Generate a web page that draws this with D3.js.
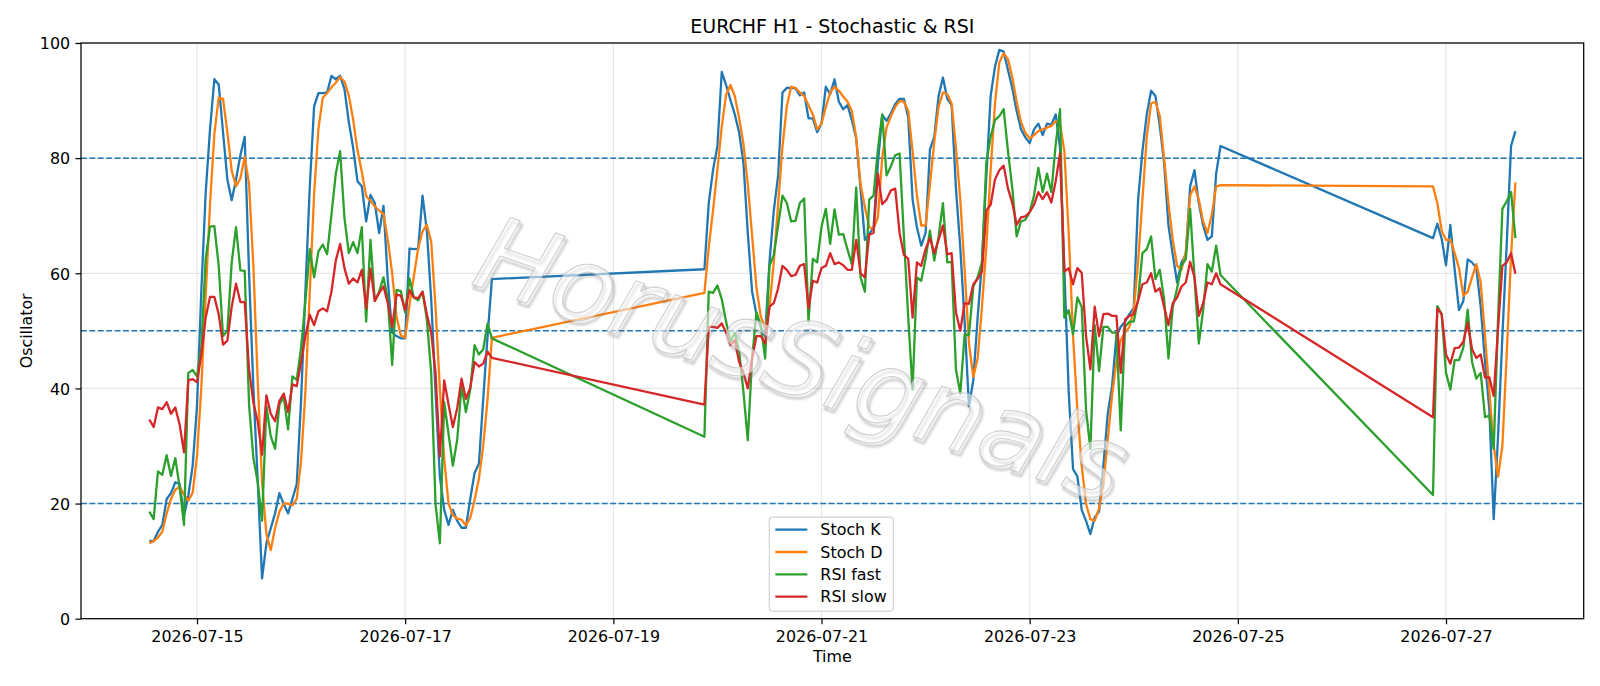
<!DOCTYPE html>
<html><head><meta charset="utf-8">
<script src="https://cdn.jsdelivr.net/npm/d3@7"></script>
<style>
body{margin:0;background:#fff}
svg{display:block}
text{font-family:"DejaVu Sans",sans-serif}
</style>
</head><body>
<svg id="chart" width="1600" height="686"></svg>
<script>
// ---- data ----
const segmentStarts = ["2026-07-14T13:00:00Z", "2026-07-19T21:00:00Z", "2026-07-26T21:00:00Z"];
const segmentLengths = [80, 120, 20];

const stochK = [
 13.5,13.5,15.1,16.3,20.8,21.8,23.7,23.4,17.9,21.4,
 26.6,36.9,57,74,85,93.7,92.8,84.5,76.3,72.7,
 76.3,80.5,83.7,60,40,24,7.0,13.1,15.7,18.3,
 21.8,19.9,18.3,20.8,23.4,38,57,75,89,91.3,
 91.3,91.4,94.3,93.7,94.3,92,86.3,81.8,76,75.1,
 69,73.6,72.2,67,71.7,58.7,49.7,49.1,48.7,48.7,
 64.3,64.2,64.3,73.5,67.4,55.5,39.4,24.7,18.9,16.3,
 18.9,17,15.8,15.8,20.8,25.3,26.9,38.2,49.1,59.0,
 60.7,72.2,78,82.1,95.0,92.7,90.1,87.6,84.5,79.2,
 67,56.8,52.9,50.7,49.1,61.9,70.9,77,91.4,92.2,
 92.2,92.1,90.9,91.4,86.9,86.9,84.5,86,92.4,91.1,
 93.7,89.8,88.5,89.2,86.6,83.4,74.7,65.8,66.8,68,
 79,87.5,86.5,87.8,89.4,90.3,90.3,87,72.8,68,
 64.8,67,81.5,83.7,90.8,94,90.3,89.2,74.7,64.5,
 51.6,36.9,41.4,52.3,61.9,76.7,90.8,95.9,98.8,98.5,
 95.3,92.1,88.2,85,83.6,82.6,85,86,84,86,
 85.8,87.6,81.8,60.6,39.4,26,24.7,18.9,17,14.7,
 17.6,18.6,26.6,35.6,40.4,49.1,50.7,51.6,52.9,54,
 72.8,81.2,87.6,91.7,90.8,85.6,79.2,68.3,63.2,58.4,
 61.9,63.2,75.1,77.9,72.2,68.3,65.8,66.4,77.3,82.1,
 66.1,68.6,66,61.4,68.4,60.6,53.6,55.2,62.4,61.9,
 60.9,54.2,44.6,36.2,17.3,31.7,49.1,65.1,82.1,84.7
];
const stochD = [
 13.1,13.5,14.1,15.1,18.3,20.8,22.4,22.9,21.6,20.5,
 21.9,28.3,40.2,56,72,84.2,90.5,90.3,84.5,77.8,
 75.1,76.5,80.2,75.5,61.2,41.3,23.7,14.7,11.9,15.7,
 18.6,20,20,19.7,20.8,27.4,39.5,56.7,73.7,85.1,
 90.5,91.3,92.3,93.1,94.1,93.3,90.9,86.7,81.4,77.6,
 73.4,72.6,71.6,70.9,70.3,65.8,60,52.5,49.2,48.8,
 54.5,59.5,64.3,67.3,68.4,65.5,54.1,39.9,27.7,20,
 18,17.4,17.2,16.2,17.5,20.6,24.3,30.1,38.1,48.8,
 56.6,64.5,71,78,85.5,91,92.7,90.8,87,82.5,
 75.5,66.5,57.5,52.5,50.5,54,62,72,82,89,
 92.4,92.2,91.4,90.8,89.2,87.6,85.0,86.0,88.9,91.4,
 92.4,91.7,90.7,89.8,88.2,83.6,75.5,71.5,68,67.7,
 69.7,80.1,85.3,87.3,88.9,89.9,89.8,88.2,81.2,73.5,
 68.3,68.3,75.4,82.8,88.9,91.4,91.1,89.5,81.8,72.8,
 60.6,47.8,42,45.2,54.2,64.5,77.9,89.5,96.6,98.2,
 97.2,94,89.8,86.3,84.4,83.4,84,84.7,85,85.3,
 85.6,86.4,86,81.2,67,49.1,36.3,26.6,19.9,17.3,
 17,19.2,23.4,31.1,38.8,44.6,48.4,49.7,50.7,53.6,
 61.9,72.8,83.7,89.5,89.8,87.3,79.9,72.2,65.8,61.3,
 60.6,63.8,73.5,75.1,72.8,69,67,70.2,75.1,75.3,
 75.1,72.2,67.4,65.8,65.8,63.5,60.9,56.1,56.8,59.3,
 61.6,58.4,49.1,39.4,30,24.7,30,46,63,75.8
];
const rsiFast = [
 18.6,17.3,25.6,25.0,28.4,24.8,27.9,22.8,16.3,42.7,
 43.2,42.1,47.1,62.5,68.1,68.2,61.3,49.1,50.0,61.9,
 68.0,60.5,60.4,37.2,27.9,23.7,17.0,36.9,31.7,29.5,
 37.2,38.5,32.9,42.1,41.5,47.1,55.2,64.2,59.3,63.8,
 65.0,63.3,70.2,77.3,81.2,69.6,63.5,65.4,63.5,68.0,
 51.6,65.8,55.2,56.8,59.3,55.5,44.1,57.1,56.9,53.2,
 59.1,55.8,55.3,56.8,52.0,42.7,19.9,13.1,37.6,32.1,
 26.6,31.1,40.4,35.9,39.8,47.5,45.9,46.8,51.3,48.7,
 31.6,56.8,56.6,57.9,55.5,51.6,48.1,49.7,46.5,39.4,
 31,45.2,53.2,51,45.2,61.3,63.2,68.3,73.5,72.2,
 69,69.1,72.2,73,51.6,62.5,61.9,68.1,71.2,65.1,
 71.1,66.7,66.8,64.1,61.6,74.9,59.3,56.8,72.8,73.5,
 81.5,87.6,77,78.6,80.5,80.8,66.4,52.3,39.8,59.3,
 58.7,62.5,67.4,62.2,66.4,72.2,61.9,62,43.3,39.1,
 49.4,49.2,57.7,59.3,61.9,79.2,83.7,86.6,87.3,88.5,
 81.2,74.7,66.4,69,69.3,70.6,73.5,78.3,74.1,77.3,
 74.1,82.4,88.5,52.3,53.6,49.4,55.8,54.2,36.2,29.5,
 51,43,50.7,50.7,49.7,49.7,32.7,50.7,51.6,51.6,
 55.5,63.5,64.2,66.4,59,60.6,55.5,45.2,54.2,57.4,
 61.3,62.5,71.2,59.3,47.8,53.6,61.6,60.3,64.8,59.7,
 21.5,54.3,52.9,42.7,39.8,44.9,44.9,47.1,53.7,44.6,
 41.7,42.7,35,35.3,29.5,52,71.2,72.5,74.1,66.1
];
const rsiSlow = [
 34.6,33.3,36.7,36.4,37.6,35.6,36.7,33.7,28.9,41.4,
 41.6,41.1,45.9,52.3,55.9,55.9,52.9,47.6,48.3,54.2,
 58.2,55.0,55.0,43.3,37.5,34.3,28.5,38.8,35.6,34.3,
 37.8,39.1,35.9,40.7,40.4,44.6,49.1,52.8,51.0,53.4,
 53.9,53.4,56.8,62.2,65.1,60.9,58.2,59.1,58.4,60.6,
 53.9,60.8,55.2,56.6,57.7,54.8,50.7,56.3,56.1,53.6,
 57.1,55.8,55.7,56.8,52.9,49.7,42.7,28.2,41.4,37.2,
 33.3,36.6,41.7,38.2,40.1,44.6,43.8,44.3,46.4,45.3,
 37.2,50.7,50.7,50.5,51.3,49.7,47.5,48.4,44.6,42.7,
 40,45.2,49.1,49.1,47.8,54.2,54.8,57.4,61.3,60.6,
 59.5,59.7,61.3,61.6,53.9,58.7,58.4,60.9,61.3,63.5,
 61.6,61.9,61.4,60.6,60.6,65.8,60.0,59.3,66.7,67.0,
 77.3,72,72.8,74.4,74.7,67.0,63.2,62.5,52.3,61.9,
 61.3,64.2,66.1,63.5,65.8,68.3,63.3,63.5,53.2,50.0,
 54.8,54.7,58.1,59,60.3,70.9,71.9,76.3,77.9,78.7,
 74.7,72.2,68.4,69.7,69.9,70.6,71.9,74.1,72.9,74.1,
 72.3,76,80.8,60.3,60.9,58.1,60.9,60.1,49.1,43.3,
 54.2,49.1,52.9,53,52.6,52.6,42.7,52,52.6,52.9,
 55.2,58.1,58.4,60,56.8,57.4,54.2,51,54.8,55.8,
 57.7,58.4,62,59.3,52.6,54.8,58.4,58.1,60,58.1,
 35,53.9,52.9,45.9,44.3,47,47.1,48.1,51.4,46.8,
 45.3,45.9,41.9,41.9,38.7,50.4,61.3,61.9,63.5,59.9
];
const seriesNames = ["Stoch K", "Stoch D", "RSI fast", "RSI slow"];
const seriesColors = ["#1f77b4", "#ff7f0e", "#2ca02c", "#d62728"];
const yTickValues = [0, 20, 40, 60, 80, 100];
const xTickLabels = ["2026-07-15", "2026-07-17", "2026-07-19", "2026-07-21", "2026-07-23", "2026-07-25", "2026-07-27"];
const refLevels = [20, 50, 80];
const titleText = "EURCHF H1 - Stochastic & RSI";
const xLabel = "Time";
const yLabel = "Oscillator";
const watermarkText = "HorusSignals";

// ---- build time axis from segments ----
const times = [];
segmentStarts.forEach((s, i) => {
  const t0 = Date.parse(s);
  for (let j = 0; j < segmentLengths[i]; j++) times.push(new Date(t0 + j * 3600e3));
});
const allSeries = [stochK, stochD, rsiFast, rsiSlow];

// ---- layout ----
const W = 1600, H = 686;
const L = 81, R = 1583.7, T = 43, B = 618.7;
const FS = 15.9;

const svg = d3.select("#chart");
svg.append("rect").attr("width", W).attr("height", H).attr("fill", "#fff");

const tMin = d3.min(times), tMax = d3.max(times);
const span = tMax - tMin;
const x = d3.scaleUtc().domain([new Date(+tMin - 0.05 * span), new Date(+tMax + 0.05 * span)]).range([L, R]);
const y = d3.scaleLinear().domain([0, 100]).range([B, T]);
const xTicks = xTickLabels.map(s => new Date(s + "T00:00:00Z"));

const defs = svg.append("defs");
defs.append("clipPath").attr("id", "plotclip").append("rect")
  .attr("x", L).attr("y", T).attr("width", R - L).attr("height", B - T);
const f = defs.append("filter").attr("id", "wmblur").attr("x", "-10%").attr("y", "-10%").attr("width", "120%").attr("height", "120%");
f.append("feGaussianBlur").attr("stdDeviation", 1.2);

// grid
const grid = svg.append("g");
grid.selectAll("line.gx").data(xTicks).join("line")
  .attr("x1", d => x(d)).attr("x2", d => x(d)).attr("y1", T).attr("y2", B)
  .attr("stroke", "#e6e6e6").attr("stroke-width", 1.2);
grid.selectAll("line.gy").data(yTickValues).join("line")
  .attr("x1", L).attr("x2", R).attr("y1", d => y(d)).attr("y2", d => y(d))
  .attr("stroke", "#e6e6e6").attr("stroke-width", 1.2);

// reference dashed lines
svg.append("g").selectAll("line").data(refLevels).join("line")
  .attr("x1", L).attr("x2", R).attr("y1", d => y(d)).attr("y2", d => y(d))
  .attr("stroke", "#1f77b4").attr("stroke-width", 1.5).attr("stroke-dasharray", "5.9,2.5");

// series
const line = d3.line().x((d, i) => x(times[i])).y(d => y(d));
const plot = svg.append("g").attr("clip-path", "url(#plotclip)");
allSeries.forEach((s, i) => {
  plot.append("path").datum(s).attr("d", line)
    .attr("fill", "none").attr("stroke", seriesColors[i])
    .attr("stroke-width", 2.3).attr("stroke-linejoin", "round").attr("stroke-linecap", "butt");
});

// watermark
const wm = svg.append("g").attr("transform", "translate(790,394) rotate(19)");
wm.append("text").text(watermarkText)
  .attr("x", 3).attr("y", 3).attr("text-anchor", "middle")
  .attr("font-size", 104).attr("font-style", "italic")
  .attr("fill", "none").attr("stroke", "#777").attr("stroke-width", 2.2)
  .attr("stroke-opacity", 0.45).attr("filter", "url(#wmblur)");
wm.append("text").text(watermarkText)
  .attr("x", 0).attr("y", 0).attr("text-anchor", "middle")
  .attr("font-size", 104).attr("font-style", "italic")
  .attr("fill", "#fff").attr("fill-opacity", 0.55)
  .attr("stroke", "#c4c4c4").attr("stroke-width", 1.1).attr("stroke-opacity", 0.8);

// axes
const xAxis = d3.axisBottom(x).tickValues(xTicks).tickFormat((d, i) => xTickLabels[i]).tickSize(5.6).tickPadding(5.2);
const gx = svg.append("g").attr("transform", `translate(0,${B})`).call(xAxis);
const yAxis = d3.axisLeft(y).tickValues(yTickValues).tickSize(5.6).tickPadding(5.2);
const gy = svg.append("g").attr("transform", `translate(${L},0)`).call(yAxis);
[gx, gy].forEach(g => {
  g.select(".domain").remove();
  g.selectAll(".tick line").attr("stroke", "#000").attr("stroke-width", 1.2);
  g.selectAll(".tick text").attr("font-size", FS).attr("fill", "#000").attr("font-family", "DejaVu Sans");
});
gx.selectAll(".tick text").attr("dy", "0.76em");
gy.selectAll(".tick text").attr("dy", "0.36em");

// spines
svg.append("rect").attr("x", L).attr("y", T).attr("width", R - L).attr("height", B - T)
  .attr("fill", "none").attr("stroke", "#000").attr("stroke-width", 1.25);

// labels
svg.append("text").text(titleText).attr("x", (L + R) / 2).attr("y", 33)
  .attr("text-anchor", "middle").attr("font-size", 19).attr("fill", "#000");
svg.append("text").text(xLabel).attr("x", (L + R) / 2).attr("y", 662)
  .attr("text-anchor", "middle").attr("font-size", FS).attr("fill", "#000");
svg.append("text").text(yLabel).attr("transform", `translate(31.5,${(T + B) / 2}) rotate(-90)`)
  .attr("text-anchor", "middle").attr("font-size", FS).attr("fill", "#000");

// legend
const lgW = 124, lgH = 94;
const lgX = (L + R) / 2 - lgW / 2 - 1, lgY = B - 7.5 - lgH;
const lg = svg.append("g");
lg.append("rect").attr("x", lgX).attr("y", lgY).attr("width", lgW).attr("height", lgH)
  .attr("rx", 3.5).attr("fill", "#fff").attr("fill-opacity", 0.8)
  .attr("stroke", "#d4d4d4").attr("stroke-width", 1.2);
seriesNames.forEach((n, i) => {
  const ry = lgY + 12.5 + i * 22.3;
  lg.append("line").attr("x1", lgX + 6).attr("x2", lgX + 38).attr("y1", ry).attr("y2", ry)
    .attr("stroke", seriesColors[i]).attr("stroke-width", 2.3);
  lg.append("text").text(n).attr("x", lgX + 51).attr("y", ry + 5.7)
    .attr("font-size", FS).attr("fill", "#000");
});
</script>
</body></html>
